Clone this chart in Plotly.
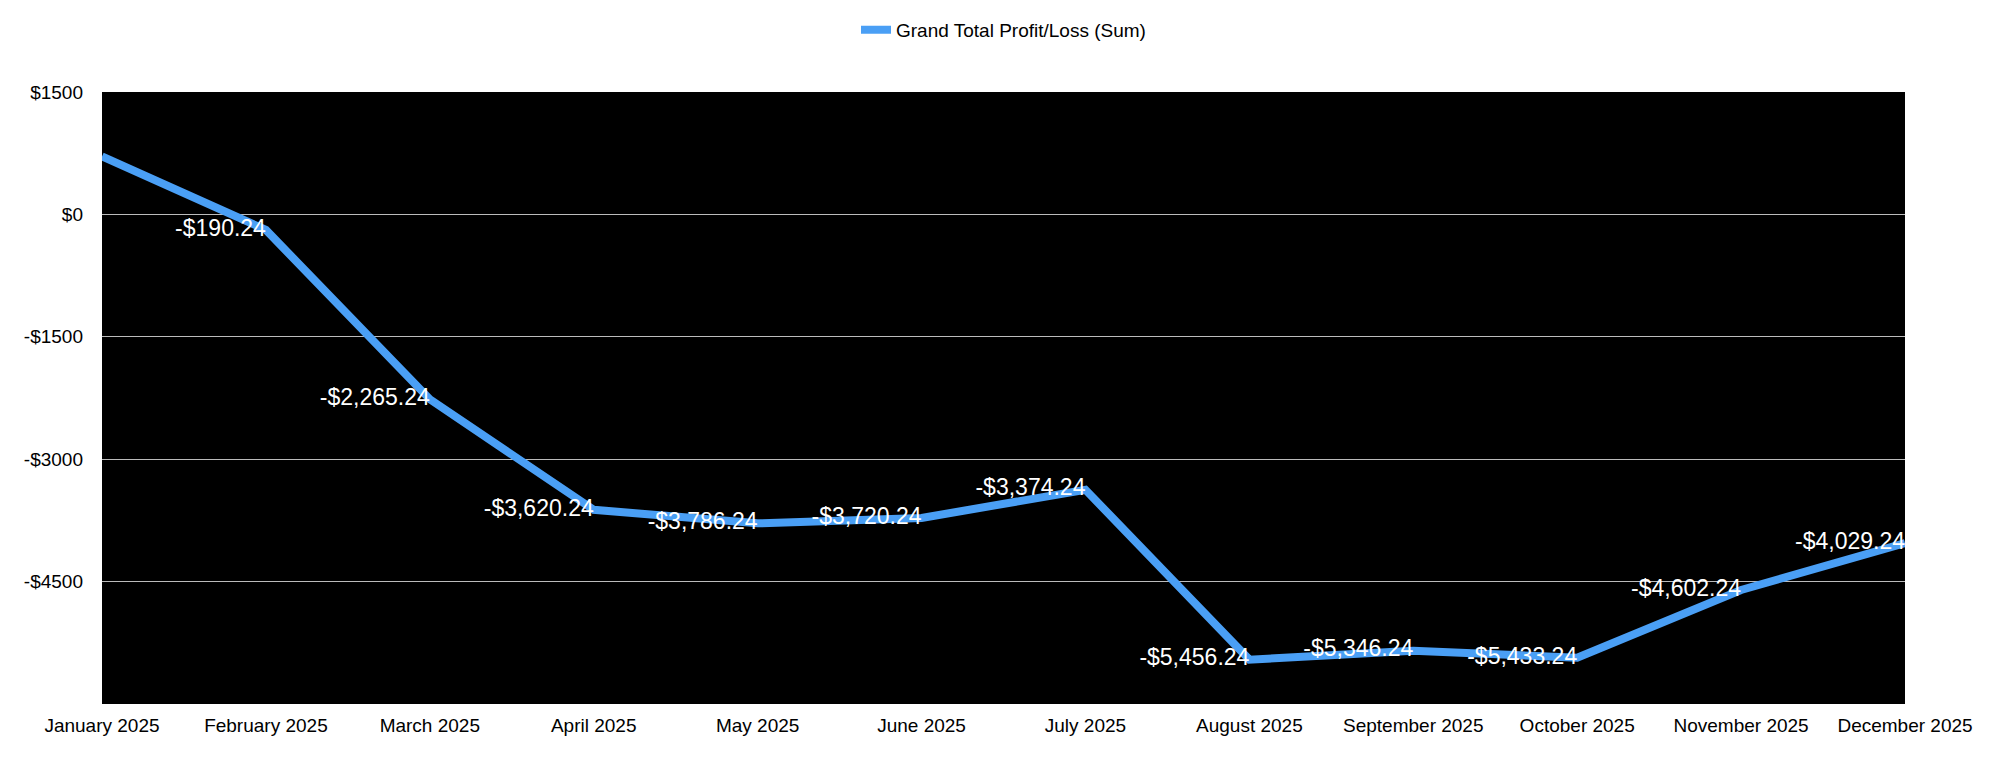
import plotly.graph_objects as go

months = ["January 2025", "February 2025", "March 2025", "April 2025", "May 2025", "June 2025",
          "July 2025", "August 2025", "September 2025", "October 2025", "November 2025", "December 2025"]
profit = [709.76, -190.24, -2265.24, -3620.24, -3786.24, -3720.24,
          -3374.24, -5456.24, -5346.24, -5433.24, -4602.24, -4029.24]
y_ticks = [1500, 0, -1500, -3000, -4500]
y_tick_labels = ["$1500", "$0", "-$1500", "-$3000", "-$4500"]


def fmt(v):
    s = "${:,.2f}".format(abs(v))
    return ("-" + s) if v < 0 else s


labels = [""] + [fmt(v) for v in profit[1:]]

fig = go.Figure()
fig.add_trace(go.Scatter(
    x=list(range(len(months))), y=profit, mode="lines+text",
    name="Grand Total Profit/Loss (Sum)",
    line=dict(color="#4a9ff5", width=8),
    text=labels, textposition="middle left",
    textfont=dict(color="white", size=23, family="Liberation Sans, Arial, sans-serif"),
    cliponaxis=False,
))

fig.update_layout(
    width=2002, height=780,
    paper_bgcolor="white", plot_bgcolor="black",
    margin=dict(l=94, r=105, t=84, b=84),
    font=dict(family="Liberation Sans, Arial, sans-serif", color="black", size=19),
    showlegend=True,
    legend=dict(orientation="h", x=0.5, xanchor="center", y=0.972, yanchor="middle",
                yref="container", font=dict(size=19)),
    xaxis=dict(tickmode="array", tickvals=list(range(len(months))), ticktext=months,
               range=[0, len(months) - 1], showgrid=False, zeroline=False,
               tickfont=dict(size=19), ticks="", ticklen=0, ticklabelstandoff=8),
    yaxis=dict(tickmode="array", tickvals=y_ticks, ticktext=y_tick_labels,
               range=[-6000, 1500], showgrid=True, gridcolor="#bbbbbb", gridwidth=1,
               zeroline=False, tickfont=dict(size=19), ticks="", ticklen=0,
               ticklabelstandoff=18),
)

fig.write_html("out.html")
